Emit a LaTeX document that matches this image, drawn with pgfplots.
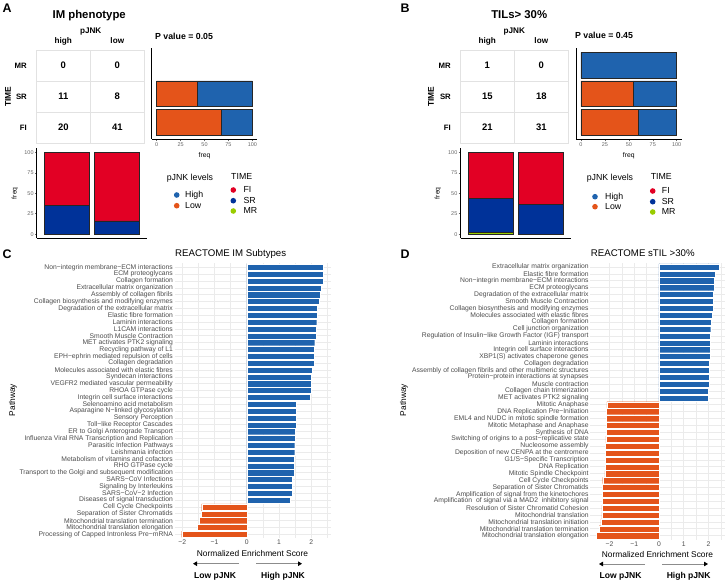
\documentclass[border=0pt]{standalone}
\usepackage{pgfplots}
\pgfplotsset{compat=1.18}
\usepackage{fontspec}
\setmainfont{Liberation Sans}
\usetikzlibrary{arrows.meta}
\definecolor{cblue}{RGB}{31,99,174}
\definecolor{corange}{RGB}{228,84,26}
\definecolor{cred}{RGB}{226,0,36}
\definecolor{cnavy}{RGB}{0,50,153}
\definecolor{cgreen}{RGB}{153,204,0}
\definecolor{gridc}{RGB}{235,235,235}
\definecolor{tabc}{RGB}{226,226,226}
\newcommand{\fs}[1]{\fontsize{#1}{#1}\selectfont}
\pgfplotsset{
 smallax/.style={scale only axis, axis x line*=bottom, axis y line*=left,
  axis line style={black,line width=0.9bp,-}, tick style={black!60,line width=0.5bp},
  tick align=outside, major tick length=2bp,
  ticklabel style={font=\fs{5.5}, text=black!60, inner sep=1bp}},
 gsea/.style={scale only axis, xbar, bar width=0.9, y dir=reverse, ymin=0.4, ymax=40.6,
  ytick={1,...,40}, xtick={-2,-1,0,1,2}, xticklabels={−2,−1,0,1,2},
  minor xtick={-1.5,-0.5,0.5,1.5,2.5}, grid=both,
  major grid style={gridc,line width=0.6bp}, minor grid style={gridc,line width=0.4bp},
  axis line style={draw=none}, major tick length=0pt, minor tick length=0pt,
  yticklabel style={font=\fs{6.8}, text=black!70, inner sep=1.5bp},
  xticklabel style={font=\fs{6.8}, text=black!70, inner sep=1.5bp}},
 sbar/.style={draw=black!85, line width=0.6bp}
}
\begin{document}
\begin{tikzpicture}
\path[use as bounding box] (0,0) rectangle (727bp,-582bp);
% ---------------- Panel A -----------------
\begin{axis}[smallax, at={(36.75bp,-148.2bp)}, anchor=north west, width=110bp, height=90.1bp,
  ybar stacked, bar width=0.9, xmin=0.4, xmax=2.6, ymin=-5, ymax=105,
  xtick=\empty, ytick={0,25,50,75,100}, yticklabels={0,25,50,75,100}]
\addplot[sbar, fill=cnavy] coordinates {(1,35.48) (2,16.33)};
\addplot[sbar, fill=cred] coordinates {(1,64.52) (2,83.67)};
\end{axis}
\begin{axis}[smallax, at={(151.9bp,-48bp)}, anchor=north west, width=105.2bp, height=91.5bp,
  xbar stacked, bar width=0.9, xmin=-5, xmax=105, ymin=0.4, ymax=3.6,
  ytick=\empty, xtick={0,25,50,75,100}, xticklabels={0,25,50,75,100}]
\addplot[sbar, fill=corange] coordinates {(67.21,1) (42.11,2)};
\addplot[sbar, fill=cblue] coordinates {(32.79,1) (57.89,2)};
\end{axis}
% ---------------- Panel B -----------------
\begin{axis}[smallax, at={(460.5bp,-148.2bp)}, anchor=north west, width=110bp, height=90.1bp,
  ybar stacked, bar width=0.9, xmin=0.4, xmax=2.6, ymin=-5, ymax=105,
  xtick=\empty, ytick={0,25,50,75,100}, yticklabels={0,25,50,75,100}]
\addplot[sbar, fill=cgreen] coordinates {(1,2.70) (2,0)};
\addplot[sbar, fill=cnavy] coordinates {(1,40.54) (2,36.73)};
\addplot[sbar, fill=cred] coordinates {(1,56.76) (2,63.27)};
\end{axis}
\begin{axis}[smallax, at={(576.2bp,-48bp)}, anchor=north west, width=105.3bp, height=91.5bp,
  xbar stacked, bar width=0.9, xmin=-5, xmax=105, ymin=0.4, ymax=3.6,
  ytick=\empty, xtick={0,25,50,75,100}, xticklabels={0,25,50,75,100}]
\addplot[sbar, fill=corange] coordinates {(59.62,1) (54.55,2) (0,3)};
\addplot[sbar, fill=cblue] coordinates {(40.38,1) (45.45,2) (100,3)};
\end{axis}
% ---------------- Panel C -----------------
\begin{axis}[gsea, at={(174.6bp,-263.2bp)}, anchor=north west, width=155.9bp, height=275.2bp,
  xmin=-2.24, xmax=2.60,
  yticklabels={{Non−integrin membrane−ECM interactions},{ECM proteoglycans},{Collagen formation},{Extracellular matrix organization},{Assembly of collagen fibrils},{Collagen biosynthesis and modifying enzymes},{Degradation of the extracellular matrix},{Elastic fibre formation},{Laminin interactions},{L1CAM interactions},{Smooth Muscle Contraction},{MET activates PTK2 signaling},{Recycling pathway of L1},{EPH−ephrin mediated repulsion of cells},{Collagen degradation},{Molecules associated with elastic fibres},{Syndecan interactions},{VEGFR2 mediated vascular permeability},{RHOA GTPase cycle},{Integrin cell surface interactions},{Selenoamino acid metabolism},{Asparagine N−linked glycosylation},{Sensory Perception},{Toll−like Receptor Cascades},{ER to Golgi Anterograde Transport},{Influenza Viral RNA Transcription and Replication},{Parasitic Infection Pathways},{Leishmania infection},{Metabolism of vitamins and cofactors},{RHO GTPase cycle},{Transport to the Golgi and subsequent modification},{SARS−CoV Infections},{Signaling by Interleukins},{SARS−CoV−2 Infection},{Diseases of signal transduction},{Cell Cycle Checkpoints},{Separation of Sister Chromatids},{Mitochondrial translation termination},{Mitochondrial translation elongation},{Processing of Capped Intronless Pre−mRNA}}]
\addplot[fill=cblue, draw=white, line width=0.25bp, bar shift=0pt] coordinates {
(2.38,1) (2.36,2) (2.36,3) (2.31,4) (2.28,5) (2.24,6) (2.19,7) (2.18,8) (2.17,9) (2.16,10)
(2.15,11) (2.11,12) (2.10,13) (2.09,14) (2.08,15) (2.02,16) (2.01,17) (2.01,18) (1.99,19) (1.97,20)
(1.54,21) (1.53,22) (1.53,23) (1.53,24) (1.51,25) (1.50,26) (1.49,27) (1.49,28) (1.48,29) (1.48,30)
(1.46,31) (1.42,32) (1.41,33) (1.40,34) (1.34,35)};
\addplot[fill=corange, draw=white, line width=0.25bp, bar shift=0pt] coordinates {
(-1.40,36) (-1.42,37) (-1.47,38) (-1.54,39) (-2.02,40)};
\end{axis}
% ---------------- Panel D -----------------
\begin{axis}[gsea, at={(590.3bp,-262.8bp)}, anchor=north west, width=134.9bp, height=277bp,
  xmin=-2.78, xmax=2.68,
  yticklabels={{Extracellular matrix organization},{Elastic fibre formation},{Non−integrin membrane−ECM interactions},{ECM proteoglycans},{Degradation of the extracellular matrix},{Smooth Muscle Contraction},{Collagen biosynthesis and modifying enzymes},{Molecules associated with elastic fibres},{Collagen formation},{Cell junction organization},{Regulation of Insulin−like Growth Factor (IGF) transport},{Laminin interactions},{Integrin cell surface interactions},{XBP1(S) activates chaperone genes},{Collagen degradation},{Assembly of collagen fibrils and other multimeric structures},{Protein−protein interactions at synapses},{Muscle contraction},{Collagen chain trimerization},{MET activates PTK2 signaling},{Mitotic Anaphase},{DNA Replication Pre−Initiation},{EML4 and NUDC in mitotic spindle formation},{Mitotic Metaphase and Anaphase},{Synthesis of DNA},{Switching of origins to a post−replicative state},{Nucleosome assembly},{Deposition of new CENPA at the centromere},{G1/S−Specific Transcription},{DNA Replication},{Mitotic Spindle Checkpoint},{Cell Cycle Checkpoints},{Separation of Sister Chromatids},{Amplification of signal from the kinetochores},{Amplification\ \ of signal via a MAD2\ \ inhibitory signal},{Resolution of Sister Chromatid Cohesion},{Mitochondrial translation},{Mitochondrial translation initiation},{Mitochondrial translation termination},{Mitochondrial translation elongation}}]
\addplot[fill=cblue, draw=white, line width=0.25bp, bar shift=0pt] coordinates {
(2.43,1) (2.28,2) (2.24,3) (2.24,4) (2.20,5) (2.19,6) (2.18,7) (2.16,8) (2.12,9) (2.09,10)
(2.08,11) (2.07,12) (2.07,13) (2.07,14) (2.04,15) (2.04,16) (2.03,17) (2.03,18) (2.00,19) (2.00,20)};
\addplot[fill=corange, draw=white, line width=0.25bp, bar shift=0pt] coordinates {
(-2.11,21) (-2.12,22) (-2.14,23) (-2.14,24) (-2.14,25) (-2.15,26) (-2.16,27) (-2.16,28) (-2.18,29) (-2.18,30)
(-2.19,31) (-2.28,32) (-2.30,33) (-2.30,34) (-2.30,35) (-2.31,36) (-2.31,37) (-2.35,38) (-2.42,39) (-2.53,40)};
\end{axis}
% ---------------- annotations -----------------
\begin{scope}[x=1bp,y=-1bp]
% Panel A texts
\node[font=\bfseries\fs{12.5}, anchor=mid] at (7,10) {A};
\node[font=\bfseries\fs{11.4}, anchor=mid] at (89.2,15.5) {IM phenotype};
\node[font=\bfseries\fs{8.2}, anchor=mid] at (90.7,31) {pJNK};
\node[font=\bfseries\fs{8.2}, anchor=mid] at (63.3,41) {high};
\node[font=\bfseries\fs{8.2}, anchor=mid] at (117.3,41) {low};
\draw[tabc, line width=0.8bp] (36,50) rectangle (144,143.3);
\draw[tabc, line width=0.8bp] (90.7,50)--(90.7,143.3) (36,81.7)--(144,81.7) (36,112.3)--(144,112.3);
\node[font=\bfseries\fs{7.8}, anchor=mid east, inner sep=0] at (27,66) {MR};
\node[font=\bfseries\fs{7.8}, anchor=mid east, inner sep=0] at (27,97) {SR};
\node[font=\bfseries\fs{7.8}, anchor=mid east, inner sep=0] at (27,128) {FI};
\node[font=\bfseries\fs{8.4}, rotate=90, inner sep=0] at (8,97) {TIME};
\foreach \t/\x/\y in {0/63.3/66, 0/117.3/66, 11/63.3/97, 8/117.3/97, 20/63.3/128, 41/117.3/128}
  \node[font=\bfseries\fs{9.5}, anchor=mid] at (\x,\y) {\t};
\node[font=\bfseries\fs{8.8}, anchor=mid west, inner sep=0] at (155,36.5) {P value = 0.05};
\node[font=\fs{6.8}, rotate=90, inner sep=0] at (15,193.3) {freq};
\node[font=\fs{6.8}, inner sep=0] at (204.5,155.5) {freq};
\node[font=\fs{8.8}, anchor=mid] at (190,177.7) {pJNK levels};
\fill[cblue] (176.7,195) circle (2.8);
\fill[corange] (176.7,205.7) circle (2.8);
\node[font=\fs{8.8}, anchor=mid west, inner sep=0] at (185,195) {High};
\node[font=\fs{8.8}, anchor=mid west, inner sep=0] at (185,205.7) {Low};
\node[font=\fs{8.8}, anchor=mid] at (241.7,176.7) {TIME};
\fill[cred] (233.3,190) circle (2.8);
\fill[cnavy] (233.3,200.7) circle (2.8);
\fill[cgreen] (233.3,211) circle (2.8);
\node[font=\fs{8.8}, anchor=mid west, inner sep=0] at (243.3,190) {FI};
\node[font=\fs{8.8}, anchor=mid west, inner sep=0] at (243.3,200.7) {SR};
\node[font=\fs{8.8}, anchor=mid west, inner sep=0] at (243.3,211) {MR};
% Panel B texts
\node[font=\bfseries\fs{12.5}, anchor=mid] at (405,9.5) {B};
\node[font=\bfseries\fs{11.4}, anchor=mid] at (519.2,15.5) {TILs> 30\%};
\node[font=\bfseries\fs{8.2}, anchor=mid] at (514.3,31) {pJNK};
\node[font=\bfseries\fs{8.2}, anchor=mid] at (487.3,41) {high};
\node[font=\bfseries\fs{8.2}, anchor=mid] at (541.3,41) {low};
\draw[tabc, line width=0.8bp] (460,50) rectangle (568.3,143.3);
\draw[tabc, line width=0.8bp] (514.3,50)--(514.3,143.3) (460,81.7)--(568.3,81.7) (460,112.3)--(568.3,112.3);
\node[font=\bfseries\fs{7.8}, anchor=mid east, inner sep=0] at (451,66) {MR};
\node[font=\bfseries\fs{7.8}, anchor=mid east, inner sep=0] at (451,97) {SR};
\node[font=\bfseries\fs{7.8}, anchor=mid east, inner sep=0] at (451,128) {FI};
\node[font=\bfseries\fs{8.4}, rotate=90, inner sep=0] at (431,97) {TIME};
\foreach \t/\x/\y in {1/487.3/66, 0/541.3/66, 15/487.3/97, 18/541.3/97, 21/487.3/128, 31/541.3/128}
  \node[font=\bfseries\fs{9.5}, anchor=mid] at (\x,\y) {\t};
\node[font=\bfseries\fs{8.8}, anchor=mid west, inner sep=0] at (575,35.5) {P value = 0.45};
\node[font=\fs{6.8}, rotate=90, inner sep=0] at (438,193.3) {freq};
\node[font=\fs{6.8}, inner sep=0] at (628.8,155.5) {freq};
\node[font=\fs{8.8}, anchor=mid] at (610,178.3) {pJNK levels};
\fill[cblue] (595,196.7) circle (2.8);
\fill[corange] (595,206.7) circle (2.8);
\node[font=\fs{8.8}, anchor=mid west, inner sep=0] at (605,196.7) {High};
\node[font=\fs{8.8}, anchor=mid west, inner sep=0] at (605,206.7) {Low};
\node[font=\fs{8.8}, anchor=mid] at (661.3,177) {TIME};
\fill[cred] (652.7,191) circle (2.8);
\fill[cnavy] (652.7,201.7) circle (2.8);
\fill[cgreen] (652.7,212) circle (2.8);
\node[font=\fs{8.8}, anchor=mid west, inner sep=0] at (661.7,191) {FI};
\node[font=\fs{8.8}, anchor=mid west, inner sep=0] at (661.7,201.7) {SR};
\node[font=\fs{8.8}, anchor=mid west, inner sep=0] at (661.7,212) {MR};
% Panel C texts
\node[font=\bfseries\fs{12.5}, anchor=mid] at (7,256) {C};
\node[font=\fs{9.7}, anchor=mid west, inner sep=0] at (175,253.5) {REACTOME IM Subtypes};
\node[font=\fs{8.4}, rotate=90, inner sep=0] at (13,400) {Pathway};
\node[font=\fs{8.4}, inner sep=0] at (252.5,553.5) {Normalized Enrichment Score};
\draw[black!45, line width=0.8bp, -{Triangle[length=4bp,width=4.5bp,color=black]}] (239,563.7)--(193,563.7);
\draw[black!45, line width=0.8bp, -{Triangle[length=4bp,width=4.5bp,color=black]}] (256,563.7)--(302,563.7);
\node[font=\bfseries\fs{8.6}, inner sep=0] at (215,576) {Low pJNK};
\node[font=\bfseries\fs{8.6}, inner sep=0] at (283,576) {High pJNK};
% Panel D texts
\node[font=\bfseries\fs{12.5}, anchor=mid] at (405,255.5) {D};
\node[font=\fs{9.7}, anchor=mid west, inner sep=0] at (590.7,253.5) {REACTOME sTIL >30\%};
\node[font=\fs{8.4}, rotate=90, inner sep=0] at (404,400) {Pathway};
\node[font=\fs{8.4}, inner sep=0] at (657.5,554.5) {Normalized Enrichment Score};
\draw[black!45, line width=0.8bp, -{Triangle[length=4bp,width=4.5bp,color=black]}] (645,564)--(599,564);
\draw[black!45, line width=0.8bp, -{Triangle[length=4bp,width=4.5bp,color=black]}] (662,564)--(708,564);
\node[font=\bfseries\fs{8.6}, inner sep=0] at (620.5,576) {Low pJNK};
\node[font=\bfseries\fs{8.6}, inner sep=0] at (688.7,576) {High pJNK};
\end{scope}
\end{tikzpicture}
\end{document}
